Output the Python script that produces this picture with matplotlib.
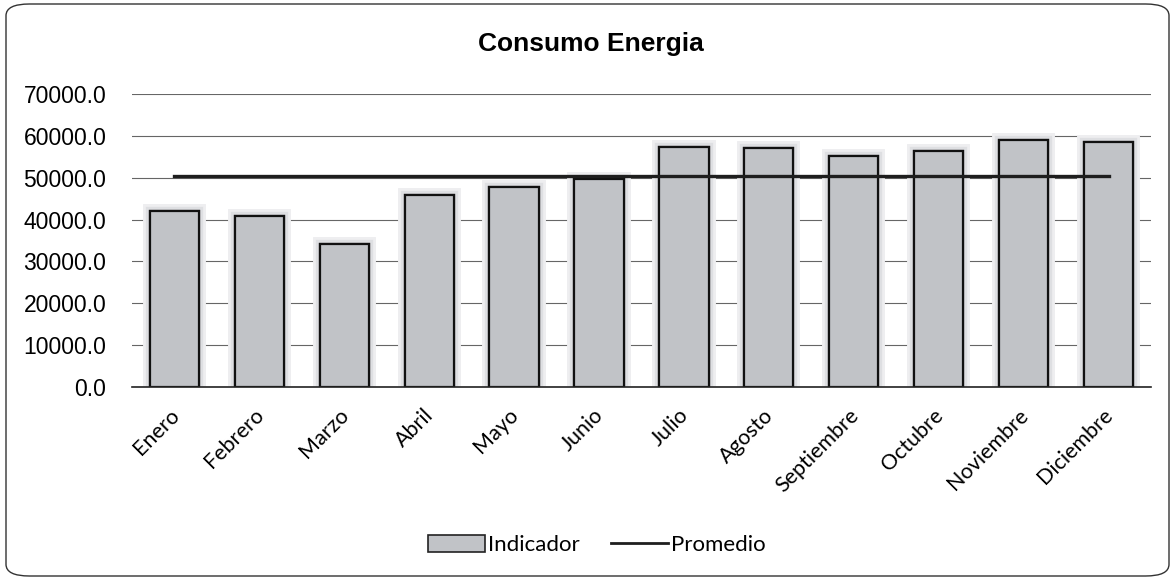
import matplotlib
matplotlib.use("Agg")
import matplotlib.pyplot as plt
import matplotlib.patheffects as pe
import matplotlib.transforms as mtransforms
from matplotlib import font_manager
from matplotlib.patches import FancyBboxPatch, Rectangle
from matplotlib.lines import Line2D

meses = ["Enero", "Febrero", "Marzo", "Abril", "Mayo", "Junio", "Julio",
         "Agosto", "Septiembre", "Octubre", "Noviembre", "Diciembre"]
indicador = [42100, 40900, 34100, 45900, 47900, 49700, 57300,
             57200, 55100, 56500, 58900, 58600]
promedio = [50350] * 12
yticks = [0, 10000, 20000, 30000, 40000, 50000, 60000, 70000]


def pick(names):
    for n in names:
        try:
            font_manager.findfont(font_manager.FontProperties(family=n),
                                  fallback_to_default=False)
            return n
        except Exception:
            pass
    return "DejaVu Sans"


arial = pick(["Liberation Sans", "DejaVu Sans"])
calibri = pick(["Lato", "Open Sans", "DejaVu Sans"])

fig = plt.figure(figsize=(11.74, 5.8), dpi=100)
ax = fig.add_axes([0.1124, 0.3328, 0.868, 0.5051])

x = range(len(meses))
glow = [pe.withStroke(linewidth=10, foreground="#eeeef0"),
        pe.withStroke(linewidth=6, foreground="#dedfe2"),
        pe.Normal()]
ax.bar(x, indicador, width=0.58, color="#c1c3c7", edgecolor="#111111",
       linewidth=1.6, zorder=2, path_effects=glow)
ax.plot(x, promedio, color="#1e1e1e", linewidth=2.4, zorder=3)

ax.set_xlim(-0.5, len(meses) - 0.5)
ax.set_ylim(0, 70000)
ax.set_yticks(yticks)
ax.set_yticklabels([f"{v:.1f}" for v in yticks], fontsize=16.5,
                   fontfamily=arial)
ax.yaxis.grid(True, color="#666666", linewidth=0.8, zorder=0)
ax.set_axisbelow(True)
ax.tick_params(axis="y", length=0, pad=18.5)
ax.tick_params(axis="x", length=0, pad=13)
ax.set_xticks(list(x))
ax.set_xticklabels(meses, rotation=45, ha="right", rotation_mode="anchor",
                   fontsize=15.5, fontfamily=calibri)
shift = mtransforms.ScaledTranslation(-4 / 72, 0, fig.dpi_scale_trans)
for lab in ax.get_xticklabels():
    lab.set_transform(lab.get_transform() + shift)
for s in ["left", "right", "top"]:
    ax.spines[s].set_visible(False)
ax.spines["bottom"].set_color("#222222")
ax.spines["bottom"].set_linewidth(1.2)

fig.text(0.503, 0.924, "Consumo Energia", ha="center", va="center",
         fontsize=19, fontweight="bold", fontfamily=arial)

handles = [Rectangle((0, 0), 1, 1, facecolor="#c1c3c7", edgecolor="#222222", linewidth=1.2),
           Line2D([0], [0], color="#1e1e1e", linewidth=2.0)]
fig.legend(handles, ["Indicador", "Promedio"], loc="center",
           bbox_to_anchor=(0.508, 0.06), ncol=2, frameon=False,
           prop={"family": calibri, "size": 16}, handlelength=2.6,
           handleheight=0.8, handletextpad=0.1, columnspacing=1.4)

border = FancyBboxPatch((6 / 1174, 4 / 580), 1163 / 1174, 572 / 580,
                        boxstyle="round,pad=0,rounding_size=0.02",
                        transform=fig.transFigure, facecolor="none",
                        edgecolor="#333333", linewidth=1.0)
fig.patches.append(border)

fig.savefig("out.png", dpi=100)
